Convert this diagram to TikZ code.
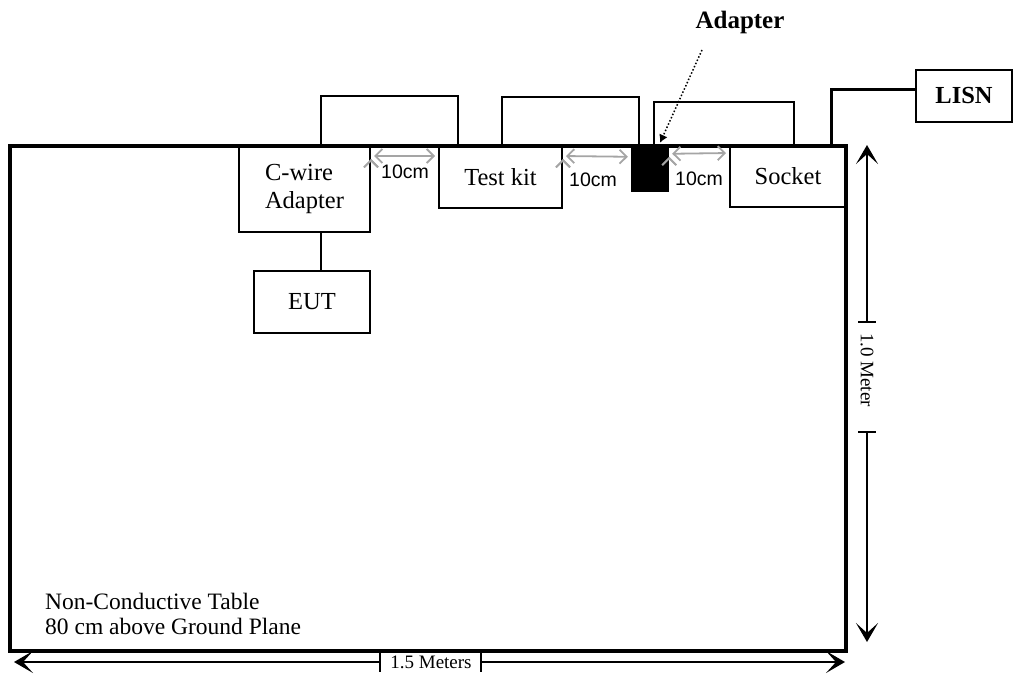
\documentclass[tikz,border=0pt]{standalone}
\usepackage{fontspec}
\setmainfont{Liberation Serif}
\newfontfamily\arialfont{Liberation Sans}
\usetikzlibrary{arrows.meta,calc,positioning}
\definecolor{spacegray}{RGB}{165,165,165}
\tikzset{
  box/.style={draw=black,line width=2pt,inner sep=0pt,font=\fontsize{24.5}{28}\selectfont},
  cable/.style={draw=black,line width=2pt},
  gap/.style={draw=spacegray,line width=1.8pt,shorten >=3pt,shorten <=3pt,
    {Straight Barb[length=7pt,width=14pt]}-{Straight Barb[length=7pt,width=14pt]}},
  gaplabel/.style={font=\arialfont\fontsize{19.5}{22}\selectfont,inner sep=0pt},
  dimline/.style={line width=1.6pt,-{Stealth[length=19pt,width=22pt,inset=10pt]}},
  dimlabel/.style={font=\fontsize{19}{22}\selectfont,inner sep=0pt},
}
\begin{document}
\begin{tikzpicture}[x=1pt,y=-1pt]
            \useasboundingbox (0,0) rectangle (1014,686);
            % table and equipment
            \node[draw=black,line width=3.5pt,minimum width=836pt,minimum height=505pt,inner sep=0pt] (table) at (428,398.5) {};
            \node[box,minimum width=131pt,minimum height=86pt,align=left] (cwire) at (304.5,189) {C-wire\\Adapter};
            \node[box,minimum width=123pt,minimum height=62pt] (testkit) at (500.5,177) {Test kit};
            \node[fill=black,minimum width=38pt,minimum height=46pt,inner sep=0pt] (adapter) at (650,169) {};
            \node[box,minimum width=116pt,minimum height=61pt] (socket) at (788,176.5) {Socket};
            \node[box,font=\bfseries\fontsize{24.5}{28}\selectfont,minimum width=96pt,minimum height=52pt] (lisn) at (964,96) {LISN};
            \node[box,minimum width=116pt,minimum height=62pt] (eut) at (312,302) {EUT};
            \node[anchor=west,align=left,inner sep=0pt,font=\fontsize{23.5}{25}\selectfont] (tablenote) at (45,614) {Non-Conductive Table\\80 cm above Ground Plane};

            % cables
            \draw[cable] ($(cwire.north)+(16.5,0)$) |- ($(testkit.north)+(-42.5,-49)$) -- ($(testkit.north)+(-42.5,0)$);
            \draw[cable] ($(testkit.north)+(1.5,0)$) |- ($(adapter.north)+(-11,-49)$) -- ($(adapter.north)+(-11,0)$);
            \draw[cable] ($(adapter.north)+(4,0)$) |- ($(socket.north)+(6,-43)$) -- ($(socket.north)+(6,0)$);
            \draw[cable,line width=3pt] ($(socket.north)+(43,0)$) |- ($(lisn.west)+(0,-7)$);
            \draw[cable] ($(eut.north)+(9,0)$) -- ($(cwire.south)+(16.5,0)$);

            % 10cm spacings
            \path[gap] ($(cwire.north east)+(0,11)$) edge ($(testkit.north west)+(0,11)$);
            \path[gap] ($(testkit.north east)+(0,11)$) edge ($(adapter.north west)+(0,11)$);
            \path[gap] ($(adapter.north east)+(0,8)$) edge ($(socket.north west)+(0,8)$);
            \node[gaplabel] (gap1) at (405,172) {10cm};
            \node[gaplabel] (gap2) at (593,180) {10cm};
            \node[gaplabel] (gap3) at (699,179) {10cm};

            % adapter callout
            \node[font=\bfseries\fontsize{25}{28}\selectfont,inner sep=0pt] (adapterlabel) at (740,22) {Adapter};
            \coordinate (ptrtail) at (702,50);
            \draw[dotted,line width=1.5pt,-{Latex[length=8pt,width=9pt]}] (ptrtail) -- ($(adapter.north)+(10,-3)$);

            % dimensions
            \coordinate (hleft) at (14,662);
            \coordinate (hright) at (845,662);
            \coordinate (htickl) at (380,662);
            \coordinate (htickr) at (481,662);
            \node[dimlabel] (widthlabel) at (431,662) {1.5 Meters};
            \draw[dimline] (htickl) -- (hleft);
            \draw[dimline] (htickr) -- (hright);
            \foreach \t in {htickl,htickr}
                \draw[line width=1.6pt] ($(\t)+(0,-10)$) -- ($(\t)+(0,10)$);

            \coordinate (vtop) at (867,145);
            \coordinate (vbot) at (867,642);
            \coordinate (vtickt) at (867,322);
            \coordinate (vtickb) at (867,432);
            \node[dimlabel,rotate=-90] (heightlabel) at (867,370) {1.0 Meter};
            \draw[dimline] (vtickt) -- (vtop);
            \draw[dimline] (vtickb) -- (vbot);
            \foreach \t in {vtickt,vtickb}
                \draw[line width=1.6pt] ($(\t)+(-9,0)$) -- ($(\t)+(9,0)$);
        \end{tikzpicture}
\end{document}
